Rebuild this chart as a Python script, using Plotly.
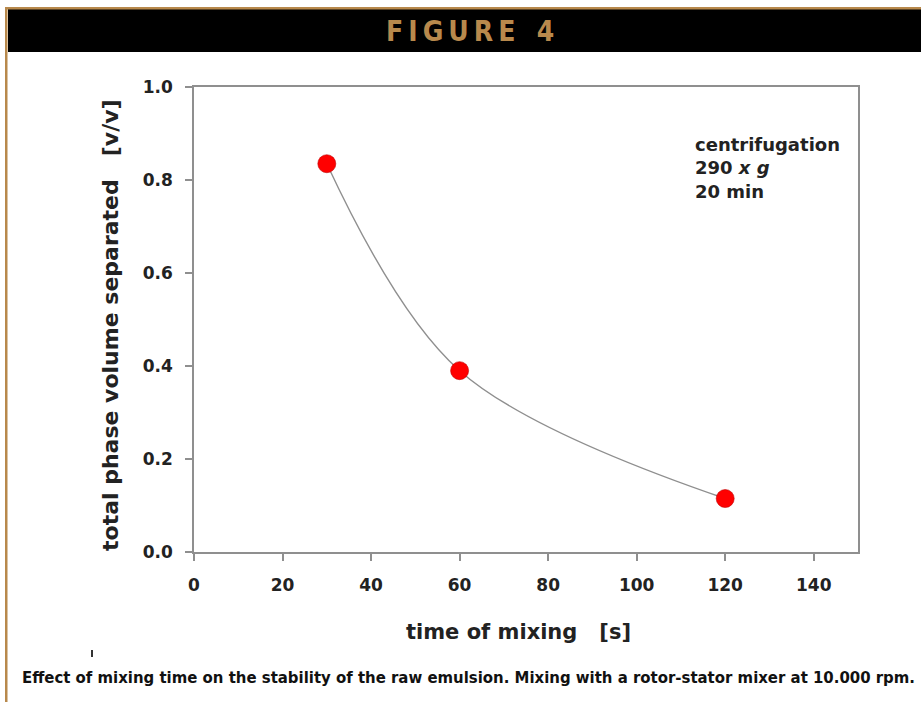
import plotly.graph_objects as go

# ---- data ----
mixing_time_s = [30, 60, 120]
phase_volume_separated = [0.835, 0.39, 0.115]
x_ticks = [0, 20, 40, 60, 80, 100, 120, 140]
y_ticks = [0.0, 0.2, 0.4, 0.6, 0.8, 1.0]

header_text = "F\u2009I\u2009G\u2009U\u2009R\u2009E \u20024"
caption_text = ("Effect of mixing time on the stability of the raw emulsion. "
                "Mixing with a rotor-stator mixer at 10.000 rpm.")
note_text = "centrifugation<br>290 <i>x g</i><br>20 min"
x_title = "time of mixing\u00a0\u00a0\u00a0[s]"
y_title = "total phase volume separated\u00a0\u00a0\u00a0[v/v]"

W, H = 921, 702
L, R, T, B = 194, 858, 87, 552  # plot area in pixels


def px(xp):
    return (xp - L) / (R - L)


def py(yp):
    return (B - yp) / (B - T)


GOLD = "#b8894c"
AX = "#8f8f8f"
TXT = "#222222"
BOLD = "DejaVu Sans, Liberation Sans, Arial, sans-serif"
NARROW = "DejaVu Sans Condensed, Liberation Sans Narrow, Liberation Sans, sans-serif"

fig = go.Figure()
fig.add_trace(go.Scatter(
    x=mixing_time_s, y=phase_volume_separated,
    mode="lines",
    line=dict(color="#8f8f8f", width=1.4, shape="spline", smoothing=1.0),
    hoverinfo="skip", showlegend=False,
))
fig.add_trace(go.Scatter(
    x=mixing_time_s, y=phase_volume_separated,
    mode="markers",
    marker=dict(color="#ff0000", size=18, line=dict(color="#c00000", width=0.6)),
    showlegend=False,
))

axis_common = dict(
    showline=True, linecolor=AX, linewidth=1.5, mirror=True,
    ticks="outside", ticklen=7, tickwidth=1.5, tickcolor=AX,
    showgrid=False, zeroline=False,
    tickfont=dict(family=BOLD, size=17, color=TXT, weight="bold"),
)
fig.update_xaxes(range=[0, 150], tickvals=x_ticks, ticklabelstandoff=10, **axis_common)
fig.update_yaxes(range=[0, 1], tickvals=y_ticks, tickformat=".1f",
                 ticklabelstandoff=9, **axis_common)

shapes = [
    # black header band
    dict(type="rect", xref="paper", yref="paper", x0=px(8), x1=px(W + 2),
         y0=py(52), y1=py(9), fillcolor="black", line=dict(width=0), layer="above"),
    # gold top line
    dict(type="rect", xref="paper", yref="paper", x0=px(5), x1=px(W + 2),
         y0=py(9.5), y1=py(7), fillcolor=GOLD, line=dict(width=0), layer="above"),
    # gold left line
    dict(type="rect", xref="paper", yref="paper", x0=px(5), x1=px(7.5),
         y0=py(H + 2), y1=py(7), fillcolor=GOLD, line=dict(width=0), layer="above"),
    # small stray mark
    dict(type="line", xref="paper", yref="paper", x0=px(92), x1=px(92),
         y0=py(657), y1=py(650), line=dict(color="#333333", width=2)),
]

annotations = [
    dict(text=header_text, xref="paper", yref="paper", x=px(470), y=py(31.5),
         xanchor="center", yanchor="middle", showarrow=False,
         font=dict(family=NARROW, size=28, color=GOLD, weight="bold")),
    dict(text=note_text, xref="paper", yref="paper", x=px(693), y=py(132),
         xanchor="left", yanchor="top", align="left", showarrow=False,
         font=dict(family=BOLD, size=18, color=TXT, weight="bold")),
    dict(text=x_title, xref="paper", yref="paper", x=px(518), y=py(632),
         xanchor="center", yanchor="middle", showarrow=False,
         font=dict(family=BOLD, size=21, color=TXT, weight="bold")),
    dict(text=y_title, xref="paper", yref="paper", x=px(110), y=py(325),
         xanchor="center", yanchor="middle", textangle=-90, showarrow=False,
         font=dict(family=BOLD, size=22, color=TXT, weight="bold")),
    dict(text=caption_text, xref="paper", yref="paper", x=px(468), y=py(677),
         xanchor="center", yanchor="middle", showarrow=False,
         font=dict(family=NARROW, size=16.6, color="#111111", weight="bold")),
]

fig.update_layout(
    width=W, height=H,
    margin=dict(l=L, r=W - R, t=T, b=H - B),
    paper_bgcolor="white", plot_bgcolor="white",
    shapes=shapes, annotations=annotations,
    showlegend=False,
)

fig.write_html("out.html", config={"displayModeBar": False},
               post_script="document.body.style.margin='0px';document.body.style.overflow='hidden';")
